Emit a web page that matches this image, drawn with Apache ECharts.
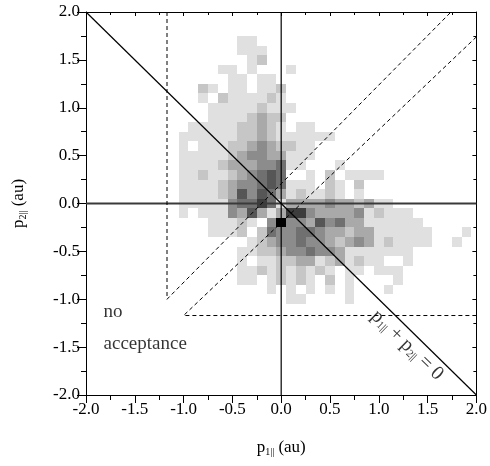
<!DOCTYPE html>
<html><head><meta charset="utf-8">
<script src="https://cdn.jsdelivr.net/npm/echarts@6/dist/echarts.min.js"></script>
<style>html,body{margin:0;padding:0;background:#fff}#c{width:490px;height:466px}</style>
</head><body><div id="c"></div>
<script>
// bin centres (au)
const binX = [-1.0,-0.9,-0.8,-0.7,-0.6,-0.5,-0.4,-0.3,-0.2,-0.1,0.0,0.1,0.2,0.3,0.4,0.5,0.6,0.7,0.8,0.9,1.0,1.1,1.2,1.3,1.4,1.5,1.6,1.7,1.8,1.9];
const binY = [1.7,1.6,1.5,1.4,1.3,1.2,1.1,1.0,0.9,0.8,0.7,0.6,0.5,0.4,0.3,0.2,0.1,0.0,-0.1,-0.2,-0.3,-0.4,-0.5,-0.6,-0.7,-0.8,-0.9,-1.0];
// count level per bin (row per binY, column per binX), '.' = empty
const binRows = [
  "......11",
  "......111",
  ".......12",
  "....11.1...1",
  ".....11.11",
  "..21.11.112",
  "..1.2111121",
  "...111112111",
  "...11112322",
  ".1111122321.11",
  "1111112232111111",
  "1.111223432211",
  "11111234433111",
  "1111233344511...1",
  "11211234565..1.2.1111",
  "11112344565111.21.2",
  "11112364653121121.1",
  "1111145575133334332311",
  "1.1114363137743333412111",
  "...11121.4944364533111111",
  "...1112.254455433233111111...1",
  ".......1234454432343121111..1",
  "......112234454431111111",
  "......1.1122331231211..1",
  "......1121212121.11.111",
  "......11.12121.2.1....1",
  ".........1.1.1.1.1...1",
  "...........11....1"
];
const levelColors = ['#ffffff','#e0e0e0','#c6c6c6','#a9a9a9','#8c8c8c','#707070','#565656','#3c3c3c','#222222','#000000'];
const binSize = 0.1;
const tickStep = 0.5;
const diagonalLine = [[-2, 2], [2, -2]];
const zeroLineX = [[0, -2], [0, 2]];
const zeroLineY = [[-2, 0], [2, 0]];
const acceptUpper = [[-1.17, 2.0], [-1.17, -1.0], [1.74, 2.0]];
const acceptLower = [[2.0, -1.17], [-1.0, -1.17], [2.0, 1.74]];
const labelsLeft = [[-1.82, -1.13, 'no'], [-1.82, -1.47, 'acceptance']];
const labelDiag = [[1.29, -1.48, 'diag']];

const heat = [];
binRows.forEach((row, j) => {
  const r = row.padEnd(binX.length, '.');
  for (let i = 0; i < binX.length; i++) {
    const ch = r[i];
    if (ch !== '.') heat.push([binX[i], binY[j], parseInt(ch, 10)]);
  }
});

const FF = '"Liberation Serif","Times New Roman",serif';
const chart = echarts.init(document.getElementById('c'), null, {renderer: 'canvas'});

function axisCommon(pos, inside, len, mlen, showLabel) {
  return {
    type: 'value', min: -2, max: 2, interval: tickStep, position: pos,
    axisLine: {show: true, onZero: false, lineStyle: {color: '#000', width: 1}},
    axisTick: {show: true, inside: inside, length: len, lineStyle: {color: '#000', width: 1}},
    minorTick: {show: true, splitNumber: 2, length: mlen, lineStyle: {color: '#000', width: 1}},
    splitLine: {show: false},
    axisLabel: {show: showLabel, formatter: v => v.toFixed(1), fontFamily: FF, fontSize: 17, color: '#000', margin: 6}
  };
}

const nameRich = {
  p: {fontFamily: FF, fontSize: 17, color: '#000'},
  s: {fontFamily: FF, fontSize: 10, color: '#000', verticalAlign: 'bottom', padding: [8, 0, 0, 0]},
  t: {fontFamily: FF, fontSize: 17, color: '#000'}
};
const xMain = axisCommon('bottom', false, 8, 5, true);
xMain.name = '{p|p}{s|1||}{t| (au)}';
xMain.nameLocation = 'middle';
xMain.nameGap = 44;
xMain.nameTextStyle = {rich: nameRich};
const yMain = axisCommon('left', false, 9, 5, true);
yMain.name = '{p|p}{s|2||}{t| (au)}';
yMain.nameLocation = 'middle';
yMain.nameGap = 58;
yMain.nameRotate = 90;
yMain.nameTextStyle = {rich: nameRich};

const richDiag = {
  p: {fontFamily: FF, fontSize: 20, color: '#000'},
  s: {fontFamily: FF, fontSize: 11, color: '#000', verticalAlign: 'bottom', padding: [9, 0, 0, 0]}
};

const option = {
  animation: false,
  backgroundColor: '#fff',
  grid: {left: 86, right: 9, top: 12, bottom: 71, containLabel: false},
  xAxis: [xMain, axisCommon('top', true, 4, 3, false)],
  yAxis: [yMain, axisCommon('right', true, 4, 3, false)],
  series: [
    {
      type: 'custom', xAxisIndex: 0, yAxisIndex: 0, data: heat, z: 1,
      renderItem: function (params, api) {
        const x = api.value(0), y = api.value(1), lv = api.value(2);
        const p0 = api.coord([x - binSize / 2, y + binSize / 2]);
        const p1 = api.coord([x + binSize / 2, y - binSize / 2]);
        const x0 = Math.round(p0[0]), y0 = Math.round(p0[1]);
        const x1 = Math.round(p1[0]), y1 = Math.round(p1[1]);
        return {type: 'rect', shape: {x: x0, y: y0, width: x1 - x0, height: y1 - y0},
          style: {fill: levelColors[lv], stroke: null}};
      }
    },
    {type: 'line', data: zeroLineY, showSymbol: false, symbol: 'none', z: 3,
      lineStyle: {color: '#3a3a3a', width: 2}},
    {type: 'line', data: zeroLineX, showSymbol: false, symbol: 'none', z: 3,
      lineStyle: {color: '#000', width: 1.2}},
    {type: 'line', data: diagonalLine, showSymbol: false, symbol: 'none', z: 3,
      lineStyle: {color: '#000', width: 1.2}},
    {type: 'line', data: acceptUpper, showSymbol: false, symbol: 'none', z: 3,
      lineStyle: {color: '#000', width: 1, type: [4, 3]}},
    {type: 'line', data: acceptLower, showSymbol: false, symbol: 'none', z: 3,
      lineStyle: {color: '#000', width: 1, type: [4, 3]}},
    {type: 'scatter', data: labelsLeft, symbolSize: 0, z: 4, silent: true,
      label: {show: true, position: 'right', distance: 0, formatter: p => p.value[2],
        fontFamily: FF, fontSize: 19, color: '#000'}},
    {type: 'scatter', data: labelDiag, symbolSize: 0, z: 4, silent: true,
      label: {show: true, position: 'inside', rotate: -44,
        formatter: '{p|p}{s|1||}{p| + p}{s|2||}{p| = 0}', rich: richDiag}}
  ]
};
chart.setOption(option);
</script>
</body></html>
